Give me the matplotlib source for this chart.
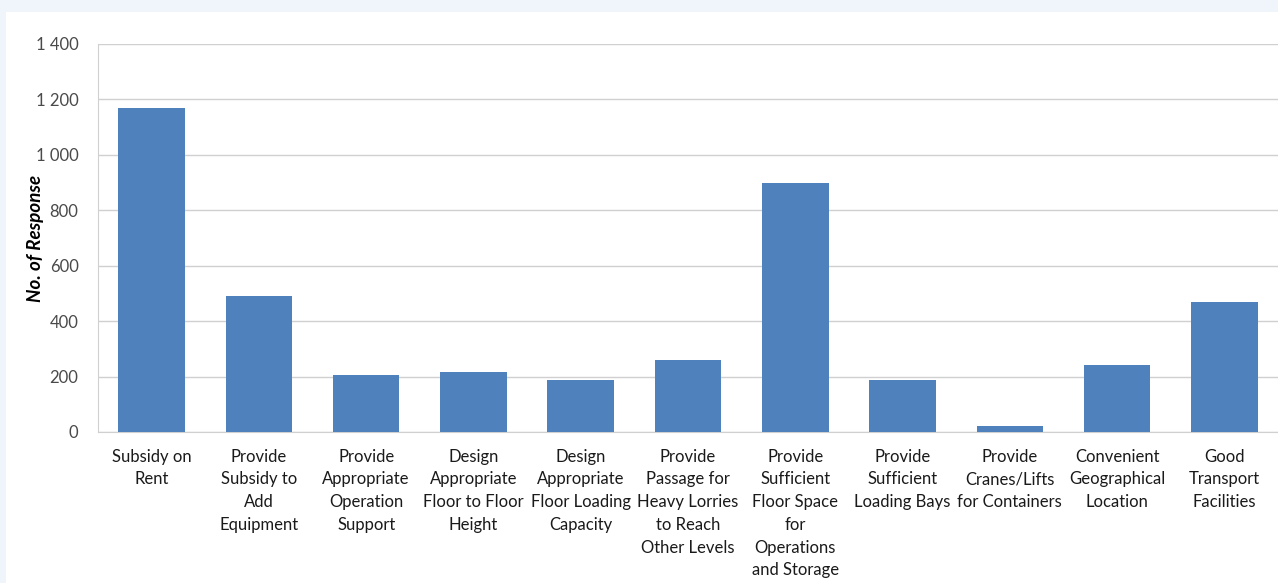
import matplotlib.pyplot as plt
from matplotlib.patches import Rectangle
from matplotlib.ticker import FuncFormatter

categories = [
    "Subsidy on\nRent",
    "Provide\nSubsidy to\nAdd\nEquipment",
    "Provide\nAppropriate\nOperation\nSupport",
    "Design\nAppropriate\nFloor to Floor\nHeight",
    "Design\nAppropriate\nFloor Loading\nCapacity",
    "Provide\nPassage for\nHeavy Lorries\nto Reach\nOther Levels",
    "Provide\nSufficient\nFloor Space\nfor\nOperations\nand Storage",
    "Provide\nSufficient\nLoading Bays",
    "Provide\nCranes/Lifts\nfor Containers",
    "Convenient\nGeographical\nLocation",
    "Good\nTransport\nFacilities",
]
responses = [1168, 492, 204, 218, 188, 258, 898, 188, 20, 240, 468]
y_ticks = [0, 200, 400, 600, 800, 1000, 1200, 1400]

plt.rcParams['font.family'] = ['Lato', 'DejaVu Sans']

W, H = 1278, 583
fig = plt.figure(figsize=(W / 100, H / 100), dpi=100)
fig.patch.set_facecolor('#eff5fa')
# white card behind the chart
fig.patches.append(Rectangle((6 / W, 0), 1 - 6 / W, 1 - 12 / H,
                             transform=fig.transFigure, facecolor='white',
                             edgecolor='none', zorder=-10))

ax = fig.add_axes([98 / W, (H - 432) / H, (W - 98) / W, (432 - 44) / H])
ax.set_facecolor('none')

x = range(len(categories))
ax.bar(x, responses, width=0.62, color='#4f81bd', zorder=3)

ax.set_xlim(-0.5, len(categories) - 0.5)
ax.set_ylim(0, 1400)
ax.set_yticks(y_ticks)
ax.yaxis.set_major_formatter(FuncFormatter(lambda v, p: f"{int(v):,}".replace(",", " ")))
ax.set_xticks(list(x))
ax.set_xticklabels(categories, fontsize=12, color='#1a1a1a', linespacing=1.52, va='top')
ax.tick_params(axis='y', labelsize=12, colors='#4a4a4a', length=0, pad=14)
ax.tick_params(axis='x', length=0, pad=12)

ax.grid(axis='y', color='#d0d0d0', linewidth=1, zorder=0)
for s in ['top', 'right']:
    ax.spines[s].set_visible(False)
ax.spines['left'].set_color('#d0d0d0')
ax.spines['bottom'].set_color('#d0d0d0')

ax.set_ylabel('No. of Response', fontsize=13.5, fontweight='bold', fontstyle='italic')
ax.yaxis.set_label_coords(-0.046, 0.5)

fig.savefig('out.png', dpi=100, facecolor=fig.get_facecolor())
